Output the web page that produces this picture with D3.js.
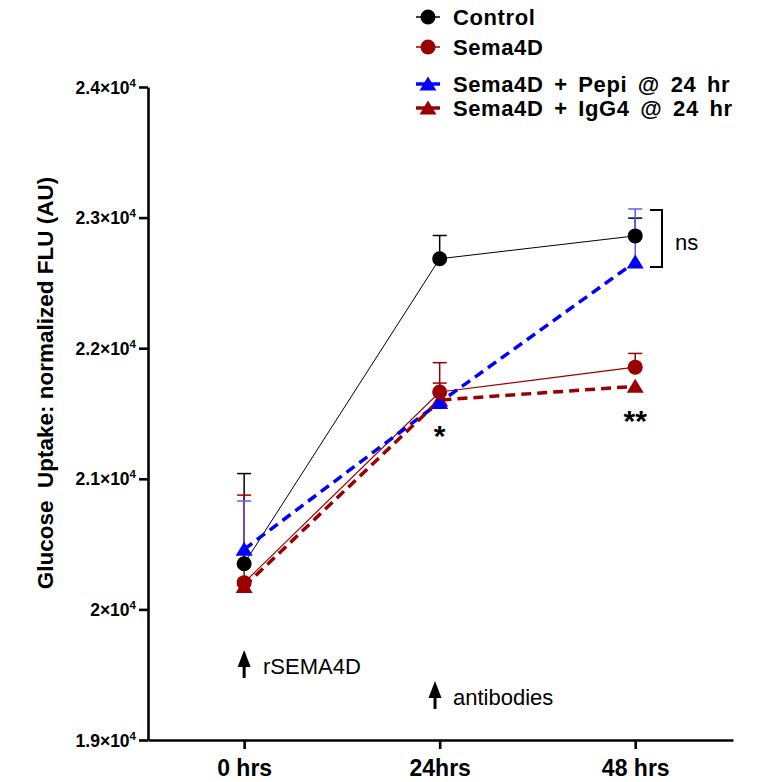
<!DOCTYPE html>
<html>
<head>
<meta charset="utf-8">
<script src="https://cdn.jsdelivr.net/npm/d3@7"></script>
<style>
  body { margin: 0; background: #fff; }
  svg { display: block; font-family: Arial, "Liberation Sans", sans-serif; }
</style>
</head>
<body>
<script>
// time points and labels
var hours = [0, 24, 48];
var hourLabels = ["0 hrs", "24hrs", "48 hrs"];
var yTicks = [19000, 20000, 21000, 22000, 23000, 24000];
var yTickMant = ["1.9", "2", "2.1", "2.2", "2.3", "2.4"];

// series (mean, upper error)
var controlMean = [20350, 22685, 22860];
var controlErr  = [690, 178, 136];
var semaMean    = [20205, 21665, 21855];
var semaErr     = [670, 224, 105];
var pepiMean    = [20460, 21585, 22660];
var pepiErr     = [370, 0, 406];
var iggMean     = [20175, 21603, 21708];
var iggErr      = [0, 130, 0];

var seriesNames = ["Control", "Sema4D", "Sema4D + Pepi @ 24 hr", "Sema4D + IgG4 @ 24 hr"];

var RED = "#9a0000", BLUE = "#0000ff";
var FONT = "Arial, 'Liberation Sans', sans-serif";

var svg = d3.select("body").append("svg")
	.attr("width", 769)
	.attr("height", 782);

var x = d3.scaleLinear().domain([-11.8, 60]).range([148, 733]);
var y = d3.scaleLinear().domain([19000, 24000]).range([740, 87]);

var series = [
	{name: seriesNames[0], mean: controlMean, err: controlErr, color: "#000", errColor: "#000", shape: "circle", width: 1, dash: null},
	{name: seriesNames[1], mean: semaMean, err: semaErr, color: RED, errColor: RED, shape: "circle", width: 1.2, dash: null},
	{name: seriesNames[2], mean: pepiMean, err: pepiErr, color: BLUE, errColor: "#5a5aff", shape: "tri", width: 3.5, dash: "10,6"},
	{name: seriesNames[3], mean: iggMean, err: iggErr, color: RED, errColor: RED, shape: "tri", width: 3.5, dash: "10,6"}
];

var triPath = "M0,-7.5L8.5,6.5L-8.5,6.5Z";

// error bars (upper only)
series.forEach(function(s) {
	var g = svg.append("g");
	hours.forEach(function(h, i) {
		if (!s.err[i]) return;
		var cx = x(h), top = y(s.mean[i] + s.err[i]);
		g.append("line").attr("x1", cx).attr("x2", cx)
			.attr("y1", y(s.mean[i])).attr("y2", top)
			.attr("stroke", s.errColor).attr("stroke-width", 1.5);
		g.append("line").attr("x1", cx - 7).attr("x2", cx + 7)
			.attr("y1", top).attr("y2", top)
			.attr("stroke", s.errColor).attr("stroke-width", 1.5);
	});
});

// connecting lines
var line = d3.line()
	.x(function(d, i) { return x(hours[i]); })
	.y(function(d) { return y(d); });

series.forEach(function(s) {
	svg.append("path")
		.attr("d", line(s.mean))
		.attr("fill", "none")
		.attr("stroke", s.color)
		.attr("stroke-width", s.width)
		.attr("stroke-dasharray", s.dash);
});

// markers, control on top
[3, 2, 1, 0].forEach(function(k) {
	var s = series[k];
	s.mean.forEach(function(v, i) {
		if (s.shape == "circle") {
			svg.append("circle").attr("cx", x(hours[i])).attr("cy", y(v))
				.attr("r", 7.5).attr("fill", s.color);
		} else {
			svg.append("path").attr("d", triPath)
				.attr("transform", "translate(" + x(hours[i]) + "," + y(v) + ")")
				.attr("fill", s.color);
		}
	});
});

// y axis
var yAxis = svg.append("g")
	.attr("transform", "translate(148,0)")
	.call(d3.axisLeft(y).tickValues(yTicks).tickSize(9).tickSizeOuter(0).tickFormat(""));
yAxis.select(".domain").attr("stroke-width", 2.6);
yAxis.selectAll(".tick line").attr("stroke-width", 2.6);
yAxis.selectAll(".tick text").remove();
yAxis.selectAll(".tick").append("text")
	.attr("x", -12)
	.attr("y", 6)
	.attr("text-anchor", "end")
	.attr("fill", "#000")
	.attr("font-family", FONT)
	.attr("font-size", 17.5)
	.attr("font-weight", "bold")
	.each(function(d, i) {
		var t = d3.select(this);
		t.append("tspan").text(yTickMant[i] + "\u00d710");
		t.append("tspan").attr("dy", -7).attr("font-size", 11.5).text("4");
	});

// x axis
var xAxis = svg.append("g")
	.attr("transform", "translate(0,740)")
	.call(d3.axisBottom(x).tickValues(hours).tickSize(9).tickSizeOuter(0)
		.tickFormat(function(d, i) { return hourLabels[i]; }));
xAxis.select(".domain").attr("stroke-width", 2.6);
xAxis.selectAll(".tick line").attr("stroke-width", 2.6);
xAxis.selectAll(".tick text")
	.attr("y", 20)
	.attr("dy", "0.71em")
	.attr("font-size", 23)
	.attr("font-weight", "bold")
	.attr("font-family", FONT)
	.attr("fill", "#000");

// y axis title
svg.append("text")
	.attr("transform", "translate(53,383) rotate(-90)")
	.attr("text-anchor", "middle")
	.attr("font-size", 22.5)
	.attr("font-weight", "bold")
	.attr("xml:space", "preserve")
	.text("Glucose  Uptake: normalized FLU (AU)");

// legend
var legend = svg.append("g");
var legY = [17, 47, 84, 108];
series.forEach(function(s, i) {
	var row = legend.append("g").attr("transform", "translate(428," + legY[i] + ")");
	row.append("line").attr("x1", -12).attr("x2", 12)
		.attr("stroke", s.color).attr("stroke-width", s.shape == "circle" ? 1.5 : 3.5);
	if (s.shape == "circle") {
		row.append("circle").attr("r", 7.5).attr("fill", s.color);
	} else {
		row.append("path").attr("d", triPath).attr("fill", s.color);
	}
	row.append("text")
		.attr("x", 25)
		.attr("y", 8)
		.attr("font-size", 22)
		.attr("font-weight", "bold")
		.attr("letter-spacing", 0.6)
		.attr("word-spacing", 4)
		.text(s.name);
});

// significance marks
svg.append("text").attr("x", x(24)).attr("y", 446).attr("text-anchor", "middle")
	.attr("font-size", 30).attr("font-weight", "bold").text("*");
svg.append("text").attr("x", x(48)).attr("y", 431).attr("text-anchor", "middle")
	.attr("font-size", 30).attr("font-weight", "bold").text("**");
svg.append("path")
	.attr("d", "M650,210H662V267H650")
	.attr("fill", "none").attr("stroke", "#000").attr("stroke-width", 2);
svg.append("text").attr("x", 675).attr("y", 250).attr("font-size", 22).text("ns");

// treatment arrows
function arrow(cx, top, bottom) {
	svg.append("line").attr("x1", cx).attr("x2", cx).attr("y1", top + 12).attr("y2", bottom)
		.attr("stroke", "#000").attr("stroke-width", 3);
	svg.append("path")
		.attr("d", "M" + cx + "," + top + "L" + (cx + 6.5) + "," + (top + 17) + "L" + (cx - 6.5) + "," + (top + 17) + "Z")
		.attr("fill", "#000");
}
arrow(x(0), 650, 678);
svg.append("text").attr("x", 263).attr("y", 674).attr("font-size", 22).text("rSEMA4D");
arrow(435, 681, 709);
svg.append("text").attr("x", 453).attr("y", 705).attr("font-size", 22).text("antibodies");
</script>
</body>
</html>
